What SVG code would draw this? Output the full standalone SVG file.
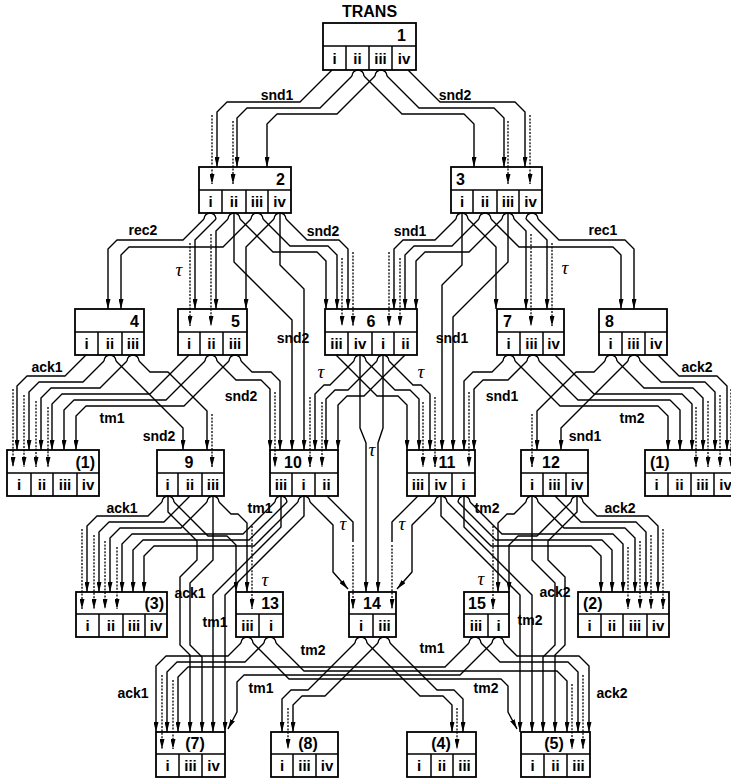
<svg xmlns="http://www.w3.org/2000/svg" xmlns:xlink="http://www.w3.org/1999/xlink" width="731" height="780" viewBox="0 0 731 780">
<style>
.bx{fill:#fff;stroke:#000;stroke-width:1.8}
.dv{fill:none;stroke:#000;stroke-width:1.5}
.e{fill:none;stroke:#000;stroke-width:1.4;stroke-linejoin:round;marker-end:url(#ah)}
.s{fill:none;stroke:#000;stroke-width:1.4;stroke-linejoin:round}
.d{fill:none;stroke:#000;stroke-width:1.3;stroke-dasharray:2 1.4;marker-end:url(#ah)}
text{font-family:"Liberation Sans",Arial,sans-serif;font-weight:bold;fill:#000}
.c{font-size:15px;text-anchor:middle}
.h{font-size:16px}
.m{text-anchor:middle}
.r{text-anchor:end}
.l{font-size:14px;text-anchor:middle}
.t{font-family:"Liberation Serif","DejaVu Serif",serif;font-style:italic;font-weight:normal;font-size:19px;text-anchor:middle}
</style>
<defs>
<marker id="ah" viewBox="0 0 10 5" refX="10" refY="2.5" markerWidth="10" markerHeight="5" markerUnits="userSpaceOnUse" orient="auto"><path d="M0,0L10,2.5L0,5z" fill="#000"/></marker>
</defs>
<rect width="731" height="780" fill="#fff"/>
<g id="nodes">
<text class="h m" x="369.5" y="17">TRANS</text>
<g id="n1"><rect class="bx" x="323" y="23" width="93" height="47"/><path class="dv" d="M323,46H416M346,46V70M369,46V70M392,46V70"/><text class="h r" x="406" y="41">1</text><text class="c" x="334.5" y="64">i</text><text class="c" x="357.5" y="64">ii</text><text class="c" x="380.5" y="64">iii</text><text class="c" x="404" y="64">iv</text></g>
<g id="n2"><rect class="bx" x="199" y="167" width="92" height="46"/><path class="dv" d="M199,190H291M222,190V213M246,190V213M268,190V213"/><text class="h r" x="285" y="185">2</text><text class="c" x="210.5" y="207">i</text><text class="c" x="234" y="207">ii</text><text class="c" x="257" y="207">iii</text><text class="c" x="279.5" y="207">iv</text></g>
<g id="n3"><rect class="bx" x="451" y="167" width="91" height="46"/><path class="dv" d="M451,190H542M473,190V213M497,190V213M519,190V213"/><text class="h" x="456" y="185">3</text><text class="c" x="462" y="207">i</text><text class="c" x="485" y="207">ii</text><text class="c" x="508" y="207">iii</text><text class="c" x="530.5" y="207">iv</text></g>
<g id="n4"><rect class="bx" x="75" y="309" width="69" height="46"/><path class="dv" d="M75,332H144M98,332V355M122,332V355"/><text class="h r" x="139" y="327">4</text><text class="c" x="86.5" y="349">i</text><text class="c" x="110" y="349">ii</text><text class="c" x="133" y="349">iii</text></g>
<g id="n5"><rect class="bx" x="178" y="309" width="69" height="46"/><path class="dv" d="M178,332H247M200,332V355M223,332V355"/><text class="h r" x="240" y="327">5</text><text class="c" x="189" y="349">i</text><text class="c" x="211.5" y="349">ii</text><text class="c" x="235" y="349">iii</text></g>
<g id="n6"><rect class="bx" x="325" y="309" width="92" height="46"/><path class="dv" d="M325,332H417M348,332V355M372,332V355M394,332V355"/><text class="h m" x="371" y="327">6</text><text class="c" x="336.5" y="349">iii</text><text class="c" x="360" y="349">iv</text><text class="c" x="383" y="349">i</text><text class="c" x="405.5" y="349">ii</text></g>
<g id="n7"><rect class="bx" x="497" y="309" width="67" height="46"/><path class="dv" d="M497,332H564M520,332V355M543,332V355"/><text class="h" x="503" y="327">7</text><text class="c" x="508.5" y="349">i</text><text class="c" x="531.5" y="349">iii</text><text class="c" x="553.5" y="349">iv</text></g>
<g id="n8"><rect class="bx" x="599" y="309" width="68" height="46"/><path class="dv" d="M599,332H667M622,332V355M645,332V355"/><text class="h" x="605" y="327">8</text><text class="c" x="610.5" y="349">i</text><text class="c" x="633.5" y="349">iii</text><text class="c" x="656" y="349">iv</text></g>
<g id="ref1a"><rect class="bx" x="7" y="450" width="92" height="46"/><path class="dv" d="M7,473H99M31,473V496M53,473V496M77,473V496"/><text class="h r" x="95" y="468">(1)</text><text class="c" x="19" y="490">i</text><text class="c" x="42" y="490">ii</text><text class="c" x="65" y="490">iii</text><text class="c" x="88" y="490">iv</text></g>
<g id="n9"><rect class="bx" x="157" y="450" width="67" height="46"/><path class="dv" d="M157,473H224M178,473V496M202,473V496"/><text class="h m" x="189" y="468">9</text><text class="c" x="167.5" y="490">i</text><text class="c" x="190" y="490">ii</text><text class="c" x="213" y="490">iii</text></g>
<g id="n10"><rect class="bx" x="270" y="450" width="68" height="46"/><path class="dv" d="M270,473H338M292,473V496M315,473V496"/><text class="h m" x="293" y="468">10</text><text class="c" x="281" y="490">iii</text><text class="c" x="303.5" y="490">i</text><text class="c" x="326.5" y="490">ii</text></g>
<g id="n11"><rect class="bx" x="407" y="450" width="68" height="46"/><path class="dv" d="M407,473H475M429,473V496M452,473V496"/><text class="h m" x="447" y="468">11</text><text class="c" x="418" y="490">iii</text><text class="c" x="440.5" y="490">iv</text><text class="c" x="463.5" y="490">i</text></g>
<g id="n12"><rect class="bx" x="521" y="450" width="67" height="46"/><path class="dv" d="M521,473H588M543,473V496M566,473V496"/><text class="h m" x="551" y="468">12</text><text class="c" x="532" y="490">i</text><text class="c" x="554.5" y="490">iii</text><text class="c" x="577" y="490">iv</text></g>
<g id="ref1b"><rect class="bx" x="645" y="450" width="92" height="46"/><path class="dv" d="M645,473H737M668,473V496M691,473V496M714,473V496"/><text class="h" x="650" y="468">(1)</text><text class="c" x="656.5" y="490">i</text><text class="c" x="679.5" y="490">ii</text><text class="c" x="702.5" y="490">iii</text><text class="c" x="725.5" y="490">iv</text></g>
<g id="ref3"><rect class="bx" x="76" y="592" width="91" height="45"/><path class="dv" d="M76,614H167M99,614V637M123,614V637M145,614V637"/><text class="h r" x="164" y="609">(3)</text><text class="c" x="87.5" y="631">i</text><text class="c" x="111" y="631">ii</text><text class="c" x="134" y="631">iii</text><text class="c" x="156" y="631">iv</text></g>
<g id="n13"><rect class="bx" x="236" y="592" width="47" height="45"/><path class="dv" d="M236,614H283M259,614V637"/><text class="h r" x="279" y="609">13</text><text class="c" x="247.5" y="631">iii</text><text class="c" x="271" y="631">i</text></g>
<g id="n14"><rect class="bx" x="349" y="592" width="47" height="45"/><path class="dv" d="M349,614H396M373,614V637"/><text class="h m" x="372" y="609">14</text><text class="c" x="361" y="631">i</text><text class="c" x="384.5" y="631">iii</text></g>
<g id="n15"><rect class="bx" x="464" y="592" width="45" height="45"/><path class="dv" d="M464,614H509M488,614V637"/><text class="h" x="468" y="609">15</text><text class="c" x="476" y="631">iii</text><text class="c" x="498.5" y="631">i</text></g>
<g id="ref2"><rect class="bx" x="578" y="592" width="91" height="45"/><path class="dv" d="M578,614H669M601,614V637M623,614V637M647,614V637"/><text class="h" x="583" y="609">(2)</text><text class="c" x="589.5" y="631">i</text><text class="c" x="612" y="631">ii</text><text class="c" x="635" y="631">iii</text><text class="c" x="658" y="631">iv</text></g>
<g id="ref7"><rect class="bx" x="156" y="732" width="69" height="45"/><path class="dv" d="M156,754H225M179,754V777M202,754V777"/><text class="h m" x="195" y="749">(7)</text><text class="c" x="167.5" y="771">i</text><text class="c" x="190.5" y="771">iii</text><text class="c" x="213.5" y="771">iv</text></g>
<g id="ref8"><rect class="bx" x="271" y="732" width="67" height="45"/><path class="dv" d="M271,754H338M293,754V777M316,754V777"/><text class="h m" x="308" y="749">(8)</text><text class="c" x="282" y="771">i</text><text class="c" x="304.5" y="771">iii</text><text class="c" x="327" y="771">iv</text></g>
<g id="ref4"><rect class="bx" x="407" y="732" width="69" height="45"/><path class="dv" d="M407,754H476M431,754V777M453,754V777"/><text class="h m" x="441" y="749">(4)</text><text class="c" x="419" y="771">i</text><text class="c" x="442" y="771">ii</text><text class="c" x="464.5" y="771">iii</text></g>
<g id="ref5"><rect class="bx" x="521" y="732" width="69" height="45"/><path class="dv" d="M521,754H590M544,754V777M567,754V777"/><text class="h m" x="554" y="749">(5)</text><text class="c" x="532.5" y="771">i</text><text class="c" x="555.5" y="771">ii</text><text class="c" x="578.5" y="771">iii</text></g>
</g>
<g id="connectors">
<path class="s" d="M352,76A6,6 0 0 1 364,76M375,76A6,6 0 0 1 387,76"/>
<path class="e" d="M332,70L300,102L227,102L217,112L217,167"/>
<path class="d" d="M212,115V184"/>
<path class="e" d="M352,76L320,108L247,108L237,118L237,167"/>
<path class="d" d="M233,121V184"/>
<path class="e" d="M375,76L337,114L277,114L267,124L267,167"/>
<path class="e" d="M364,76L402,114L464,114L474,124L474,167"/>
<path class="e" d="M387,76L419,108L494,108L504,118L504,167"/>
<path class="d" d="M508,121V184"/>
<path class="e" d="M408,70L440,102L515,102L525,112L525,167"/>
<path class="d" d="M530,115V184"/>
<g id="ul">
<path class="s" d="M204,219A6,6 0 0 1 216,219M228,219A6,6 0 0 1 240,219M251,219A6,6 0 0 1 263,219M274,219A6,6 0 0 1 286,219"/>
<path class="e" d="M204,219L183,240L117,240L108,249L108,309"/>
<path class="e" d="M251,219L223,247L129,247L121,255L121,309"/>
<path class="e" d="M216,219L195,240L195,309"/>
<path class="d" d="M190,243V326"/>
<path class="e" d="M228,219L216,231L216,309"/>
<path class="d" d="M211,234V326"/>
<path class="e" d="M274,219L246,247L246,309"/>
<path class="e" d="M240,219L273,252L317,252L326,261L326,309"/>
<path class="e" d="M263,219L290,246L328,246L337,255L337,309"/>
<path class="d" d="M342,258V326"/>
<path class="e" d="M286,219L307,240L339,240L348,249L348,309"/>
<path class="d" d="M353,252V326"/>
</g>
<use href="#ul" xlink:href="#ul" transform="matrix(-1 0 0 1 742 0)"/>
<path class="e" d="M234,213V262L292,320V450"/>
<path class="e" d="M280,213V265L304,289V450"/>
<path class="e" d="M508,213V262L453,317V450"/>
<path class="e" d="M462,213V265L442,285V450"/>
<path class="s" d="M354,361A6,6 0 0 1 366,361M377,361A6,6 0 0 1 389,361"/>
<path class="e" d="M360,355V428L366,443V592"/>
<path class="e" d="M383,355V428L378,443V592"/>
<path class="e" d="M354,361L330,385L324,385L315,394V450"/>
<path class="d" d="M310,397V467"/>
<path class="e" d="M377,361L348,390L335,390L326,399V450"/>
<path class="d" d="M322,402V467"/>
<path class="e" d="M405,355L364,396L347,396L338,405V450"/>
<path class="e" d="M389,361L413,385L421,385L430,394V450"/>
<path class="d" d="M435,397V467"/>
<path class="e" d="M366,361L395,390L410,390L419,399V450"/>
<path class="d" d="M423,402V467"/>
<path class="e" d="M336,355L377,396L398,396L407,405V450"/>
<g id="ml">
<path class="s" d="M104,361A6,6 0 0 1 116,361M127,361A6,6 0 0 1 139,361M205,361A6,6 0 0 1 217,361M229,361A6,6 0 0 1 241,361"/>
<path class="e" d="M86,355L65,376L27,376L17,386V450"/>
<path class="d" d="M13,389V467"/>
<path class="e" d="M104,361L83,382L39,382L29,392V450"/>
<path class="d" d="M24,395V467"/>
<path class="e" d="M127,361L100,388L51,388L41,398V450"/>
<path class="d" d="M36,401V467"/>
<path class="e" d="M189,355L150,394L62,394L52,404V450"/>
<path class="d" d="M48,407V467"/>
<path class="e" d="M205,361L166,400L74,400L64,410V450"/>
<path class="e" d="M229,361L184,406L86,406L76,416V450"/>
<path class="e" d="M116,361L183,428V450"/>
<path class="e" d="M139,361L150,372L168,372L207,411V450"/>
<path class="d" d="M212,414V467"/>
<path class="e" d="M217,361L236,380L261,380L270,389V450"/>
<path class="d" d="M275,392V467"/>
<path class="e" d="M241,361L252,372L271,372L280,381V450"/>
</g>
<use href="#ml" xlink:href="#ml" transform="matrix(-1 0 0 1 744 0)"/>
<g id="ll">
<path class="s" d="M162,502A6,6 0 0 1 174,502M207,502A6,6 0 0 1 219,502M275,502A6,6 0 0 1 287,502M298,502A6,6 0 0 1 310,502M241,643A6,6 0 0 1 253,643M264,643A6,6 0 0 1 276,643"/>
<path class="e" d="M162,502L148,516L97,516L87,526V592"/>
<path class="d" d="M82,529V609"/>
<path class="e" d="M190,496L164,522L109,522L99,532V592"/>
<path class="d" d="M94,535V609"/>
<path class="e" d="M207,502L181,528L120,528L110,538V592"/>
<path class="d" d="M105,541V609"/>
<path class="e" d="M275,502L243,534L132,534L122,544V592"/>
<path class="d" d="M117,547V609"/>
<path class="e" d="M287,502L249,540L143,540L133,550V592"/>
<path class="e" d="M298,502L254,546L154,546L144,556V592"/>
<path class="e" d="M174,502L208,536L227,536L236,545V592"/>
<path class="e" d="M219,502L231,514L238,514L247,523V592"/>
<path class="d" d="M252,526V609"/>
<path class="e" d="M310,502L333,525V572L348,589"/>
<path class="s" d="M327,496L353,522V542"/>
<path class="d" d="M353,545V609"/>
<path class="e" d="M168,496V512L197,541V560L180,577V645L190,655V732"/>
<path class="e" d="M213,496V560L190,583V645L202,657V732"/>
<path class="e" d="M281,496V527L213,595V732"/>
<path class="e" d="M304,496V516L225,595V732"/>
<path class="e" d="M241,643L228,656L166,656L156,666V732"/>
<path class="e" d="M264,643L245,662L177,662L167,672V732"/>
<path class="d" d="M162,675V749"/>
<path class="e" d="M355,643L308,690L291,690L282,699V732"/>
<path class="e" d="M378,643L325,696L302,696L293,705V732"/>
<path class="d" d="M288,708V749"/>
</g>
<use href="#ll" xlink:href="#ll" transform="matrix(-1 0 0 1 745 0)"/>
<path class="s" d="M355,643A6,6 0 0 1 367,643M378,643A6,6 0 0 1 390,643"/>
<path class="e" d="M469,643L445,667L188,667L178,677V732"/>
<path class="d" d="M173,680V749"/>
<path class="e" d="M492,643L460,675L244,675L237,682V712L228,729"/>
<path class="e" d="M276,643L304,671L557,671L567,681V732"/>
<path class="d" d="M572,684V749"/>
<path class="e" d="M253,643L289,679L501,679L508,686V712L517,729"/>
</g>
<g id="edge-labels">
<text class="l" x="277" y="100">snd1</text>
<text class="l" x="455" y="100">snd2</text>
<text class="l" x="143" y="235">rec2</text>
<text class="l" x="323" y="236">snd2</text>
<text class="l" x="293" y="343">snd2</text>
<text class="l" x="603" y="235">rec1</text>
<text class="l" x="410" y="236">snd1</text>
<text class="l" x="452" y="343">snd1</text>
<text class="t" x="179" y="276">τ</text>
<text class="t" x="565" y="274">τ</text>
<text class="l" x="47" y="372">ack1</text>
<text class="l" x="112" y="423">tm1</text>
<text class="l" x="159" y="441">snd2</text>
<text class="l" x="241" y="401">snd2</text>
<text class="l" x="697" y="372">ack2</text>
<text class="l" x="632" y="423">tm2</text>
<text class="l" x="585" y="441">snd1</text>
<text class="l" x="502" y="401">snd1</text>
<text class="t" x="321" y="378">τ</text>
<text class="t" x="421" y="378">τ</text>
<text class="t" x="372" y="456">τ</text>
<text class="l" x="122" y="513">ack1</text>
<text class="l" x="260" y="513">tm1</text>
<text class="t" x="343" y="530">τ</text>
<text class="l" x="487" y="513">tm2</text>
<text class="l" x="620" y="513">ack2</text>
<text class="t" x="402" y="530">τ</text>
<text class="t" x="265" y="586">τ</text>
<text class="t" x="481" y="585">τ</text>
<text class="l" x="190" y="598">ack1</text>
<text class="l" x="215" y="627">tm1</text>
<text class="l" x="555" y="597">ack2</text>
<text class="l" x="530" y="625">tm2</text>
<text class="l" x="313" y="655">tm2</text>
<text class="l" x="432" y="653">tm1</text>
<text class="l" x="133" y="698">ack1</text>
<text class="l" x="261" y="693">tm1</text>
<text class="l" x="486" y="693">tm2</text>
<text class="l" x="612" y="698">ack2</text>
</g>
</svg>
